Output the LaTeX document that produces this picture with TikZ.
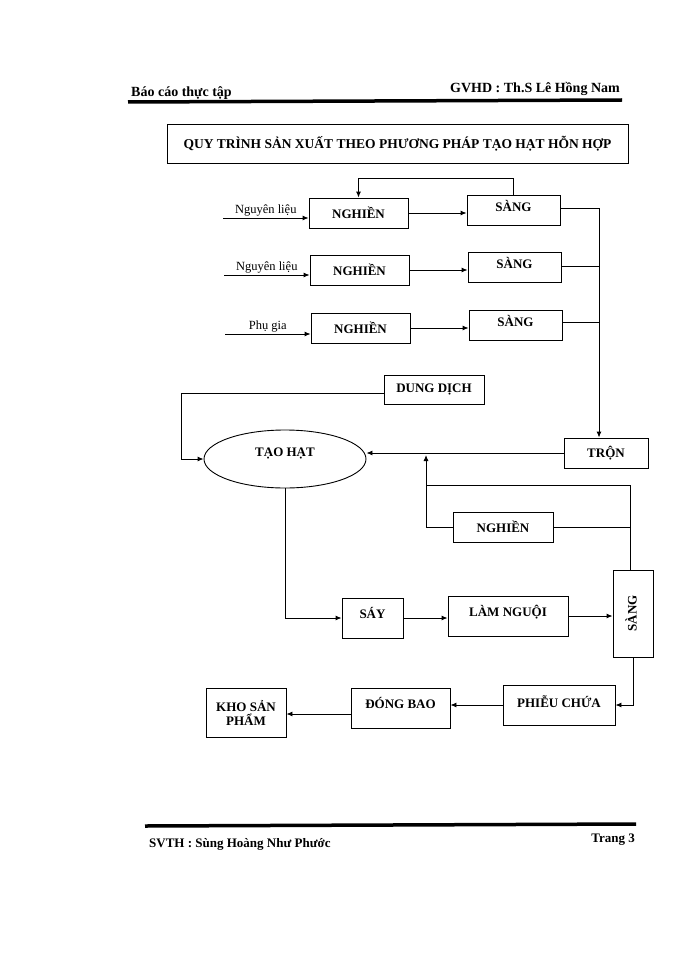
\documentclass[tikz,border=0pt]{standalone}
\usepackage{fontspec}
\setmainfont{Liberation Serif}
\usetikzlibrary{shapes.geometric,arrows.meta}
\begin{document}
\begin{tikzpicture}[x=1pt,y=-1pt,
  box/.style={draw,line width=0.9pt,inner sep=0pt,font=\fontsize{13}{14}\selectfont\bfseries,align=center},
  lbl/.style={font=\fontsize{13}{15}\selectfont\bfseries,inner sep=1pt},
  ar/.style={-{Latex[length=6pt,width=5pt]},line width=0.9pt},
  ln/.style={line width=0.9pt}]
\useasboundingbox (0,0) rectangle (700,960);
% header / footer
\node[lbl,anchor=base west,font=\fontsize{14}{15}\selectfont\bfseries] (hl) at (130,97) {Báo cáo thực tập};
\node[lbl,anchor=base east,font=\fontsize{14}{15}\selectfont\bfseries] (hr) at (621,93) {GVHD : Th.S Lê Hồng Nam};
\coordinate (h1) at (128,102); \coordinate (h2) at (622,100);
\draw[line width=3.5pt] (h1) -- (h2);
\coordinate (f1) at (145,826); \coordinate (f2) at (636,824);
\draw[line width=3.5pt] (f1) -- (f2);
\node[lbl,anchor=base west] (fl) at (148,847) {SVTH : Sùng Hoàng Như Phước};
\node[lbl,anchor=base east] (fr) at (636,842) {Trang 3};
% title
\node[box,minimum width=461,minimum height=39,font=\fontsize{13.5}{15}\selectfont\bfseries] (title) at (397.5,143.5) {QUY TRÌNH SẢN XUẤT THEO PHƯƠNG PHÁP TẠO HẠT HỖN HỢP};
% rows
\node[box,minimum width=99,minimum height=30] (n1) at (358.5,213) {NGHIỀN};
\node[box,minimum width=93,minimum height=30] (s1) at (513.5,210) {SÀNG\\[-6pt]};
\node[box,minimum width=99,minimum height=30] (n2) at (359.5,270) {NGHIỀN};
\node[box,minimum width=93,minimum height=30] (s2) at (514.5,267) {SÀNG\\[-6pt]};
\node[box,minimum width=99,minimum height=30] (n3) at (360.5,328) {NGHIỀN};
\node[box,minimum width=93,minimum height=30] (s3) at (515.5,325) {SÀNG\\[-6pt]};
\coordinate (i1) at (223,218); \coordinate (i2) at (224,275); \coordinate (i3) at (225,334);
\draw[ar] (i1) -- (n1.west |- i1) node[lbl,pos=0.5,above,font=\fontsize{12.5}{14}\selectfont] {Nguyên liệu};
\draw[ar] (i2) -- (n2.west |- i2) node[lbl,pos=0.5,above,font=\fontsize{12.5}{14}\selectfont] {Nguyên liệu};
\draw[ar] (i3) -- (n3.west |- i3) node[lbl,pos=0.5,above,font=\fontsize{12.5}{14}\selectfont] {Phụ gia};
\draw[ar] (n1.east) -- (s1.west |- n1.east);
\draw[ar] (n2.east) -- (s2.west |- n2.east);
\draw[ar] (n3.east) -- (s3.west |- n3.east);
\draw[ar] (s1.north) -- ++(0,-16) -| (n1.north);
% mixing
\node[box,minimum width=84,minimum height=30] (tron) at (606,453) {TRỘN};
\coordinate (c1) at (599,208); \coordinate (c2) at (599,266); \coordinate (c3) at (599,322);
\draw[ln] (s1.east |- c1) -- (c1);
\draw[ln] (s2.east |- c2) -- (c2);
\draw[ln] (s3.east |- c3) -- (c3);
\draw[ar] (c1) -- (c1 |- tron.north);
\node[box,minimum width=100,minimum height=29] (dd) at (434,389.5) {DUNG DỊCH};
\node[draw,ellipse,line width=0.9pt,minimum width=162,minimum height=58,font=\fontsize{13}{14}\selectfont\bfseries,inner sep=0pt,align=center] (th) at (285,459) {TẠO HẠT\\[0pt]};
\coordinate (d1) at (181,393);
\draw[ar] (dd.west |- d1) -- (d1) |- (th.west);
\draw[ar] (tron.west) -- (th.east |- tron.west);
% recycle
\node[box,minimum width=100,minimum height=30] (ng4) at (503,527) {NGHIỀN};
\node[box,minimum width=40,minimum height=87] (s4) at (633,613.5) {};
\node[lbl,rotate=90] (s4t) at (631,613.5) {SÀNG};
\coordinate (r1) at (426,485); \coordinate (r2) at (426,455);
\draw[ln] (s4.north -| 630,0) -- (630,485) -- (r1);
\draw[ar] (ng4.west) -- (ng4.west -| r1) -- (r2);
\draw[ln] (ng4.east) -- (ng4.east -| 630,0);
% drying line
\node[box,minimum width=61,minimum height=40] (say) at (372.5,618) {SÁY\\[-4pt]};
\node[box,minimum width=120,minimum height=40] (ln) at (508,616) {LÀM NGUỘI\\[-3pt]};
\draw[ar] (th.south) |- (say.west);
\draw[ar] (say.east) -- (ln.west |- say.east);
\draw[ar] (ln.east) -- (s4.west |- ln.east);
% bottom
\node[box,minimum width=112,minimum height=40] (pc) at (559,705) {PHIỄU CHỨA\\[-8pt]};
\node[box,minimum width=99,minimum height=40] (db) at (400.5,708) {ĐÓNG BAO\\[-3pt]};
\node[box,minimum width=80,minimum height=49] (kho) at (246,712.5) {KHO SẢN\\PHẨM};
\draw[ar] (s4.south) |- (pc.east);
\draw[ar] (pc.west) -- (db.east |- pc.west);
\draw[ar] (db.west |- 0,714) -- (kho.east |- 0,714);
\end{tikzpicture}
\end{document}
